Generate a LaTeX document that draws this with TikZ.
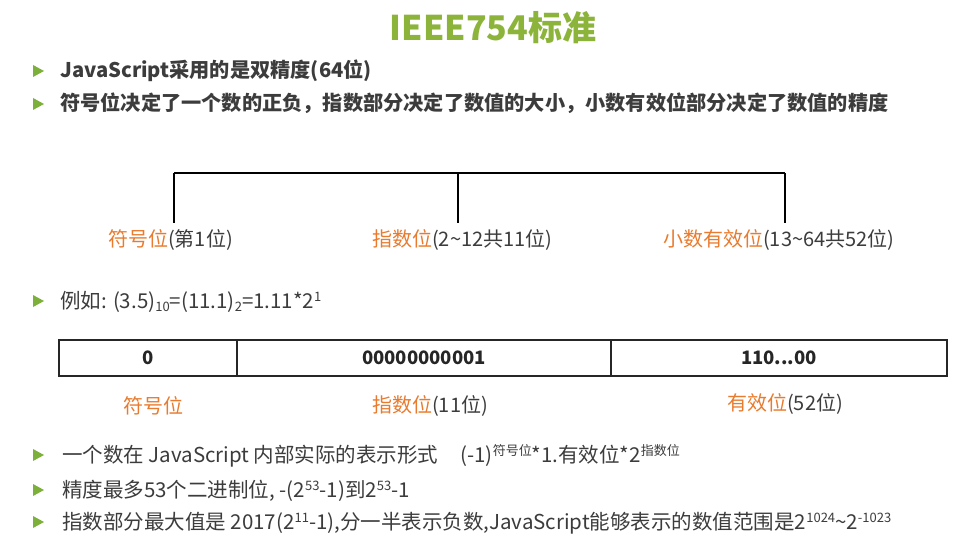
\documentclass[tikz,border=0pt]{standalone}
\usepackage{fontspec}
\setmainfont{Noto Sans CJK SC}
\definecolor{titlegreen}{HTML}{8CB43A}
\definecolor{bulletgreen}{HTML}{7DB03A}
\definecolor{accent}{HTML}{E97B2E}
\definecolor{bodytext}{HTML}{3C3C3C}
\newcommand{\sz}[1]{\fontsize{#1}{#1}\selectfont}
\newcommand{\ac}[1]{\textcolor{accent}{#1}}
\newcommand{\up}[1]{\raisebox{0.55ex}{\sz{13}#1}}
\newcommand{\dn}[1]{\raisebox{-0.35ex}{\sz{13}#1}}
\begin{document}
\begin{tikzpicture}[x=1pt,y=-1pt,
  txt/.style={anchor=base west,inner sep=0pt,text=bodytext},
  boldline/.style={txt,font=\sz{20.2}\bfseries},
  plainline/.style={txt,font=\sz{20.5}},
  lbl/.style={inner sep=0pt,text=bodytext,font=\sz{20}},
  bullet/.style={fill=bulletgreen,draw=none},
  brace/.style={line width=1.8pt,black},
  cell/.style={draw=black!85,line width=1.3pt,minimum height=36pt,inner sep=0pt,
    font=\sz{18.5}\bfseries,text=black!85},
]
\useasboundingbox[fill=white] (0,0) rectangle (958,548);

% title
\node[inner sep=0pt,text=titlegreen,font=\sz{34}\bfseries] (title) at (493,28) {IEEE754标准};

% bullet markers
\foreach \n/\yy in {b1/71,b2/104,b3/301,b4/455,b5/490,b6/522}
  \fill[bullet] (33,\yy-6) -- (44,\yy) -- (33,\yy+6) -- cycle;

\node[boldline] (l1) at (60,78) {JavaScript采用的是双精度(64位)};
\node[boldline] (l2) at (60,111) {符号位决定了一个数的正负，指数部分决定了数值的大小，小数有效位部分决定了数值的精度};

% bracket over the three parts
\coordinate (bl) at (174,173);
\coordinate (bm) at (458,173);
\coordinate (br) at (785,173);
\coordinate (tl) at (174,223);
\coordinate (tm) at (458,223);
\coordinate (tr) at (785,223);
\draw[brace] (bl) -- (br);
\draw[brace] (bl) -- (tl);
\draw[brace] (bm) -- (tm);
\draw[brace] (br) -- (tr);

\node[txt,font=\sz{20}] (p1) at (108,246) {\ac{符号位}(第1位)};
\node[txt,font=\sz{20}] (p2) at (372,246) {\ac{指数位}(2\char"7E 12共11位)};
\node[txt,font=\sz{20}] (p3) at (663,246) {\ac{小数有效位}(13\char"7E 64共52位)};

% example
\node[plainline] (ex) at (60,308) {例如: (3.5)\dn{10}=(11.1)\dn{2}=1.11*2\up{1}};

% 64-bit layout table
\node[cell,minimum width=178pt] (c1) at (148,358) {0};
\node[cell,minimum width=374pt] (c2) at (424,358) {00000000001};
\node[cell,minimum width=336pt] (c3) at (779,358) {110...00};

\node[lbl,text=accent] (f1) at (153,406) {符号位};
\node[lbl] (f2) at (430,406) {\ac{指数位}(11位)};
\node[lbl] (f3) at (785,404) {\ac{有效位}(52位)};

% notes
\node[plainline] (n1) at (62,462) {一个数在 JavaScript 内部实际的表示形式\hspace{22pt}(-1)\up{符号位}*1.有效位*2\up{指数位}};
\node[plainline] (n2) at (62,497) {精度最多53个二进制位, -(2\up{53}-1)到2\up{53}-1};
\node[plainline] (n3) at (62,529) {指数部分最大值是 2017(2\up{11}-1),分一半表示负数,JavaScript能够表示的数值范围是2\up{1024}\char"7E 2\up{-1023}};
\end{tikzpicture}
\end{document}
